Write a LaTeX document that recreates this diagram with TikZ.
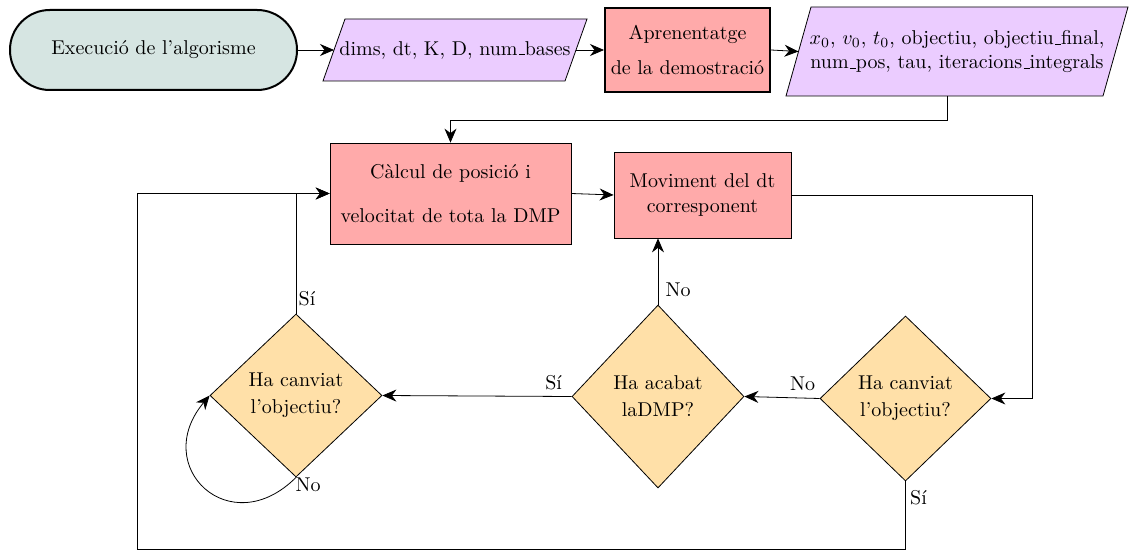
\documentclass[tikz,border=0pt]{standalone}
\usetikzlibrary{shapes.geometric,arrows.meta,calc,backgrounds}
\definecolor{startc}{RGB}{214,229,226}
\definecolor{ioc}{RGB}{235,204,255}
\definecolor{procc}{RGB}{255,170,170}
\definecolor{decc}{RGB}{255,224,168}
% short baseline underscore
\newcommand\lowbar{\leavevmode\kern.06em\vbox{\hrule width.3em}}
\begin{document}
\begin{tikzpicture}[x=0.5pt,y=0.5pt,line width=1pt,
  >={Stealth[length=7pt,width=6pt]},
  startbox/.style={draw,fill=startc,rounded corners=19.9pt,minimum width=143.5pt,minimum height=40pt},
  procbox/.style={draw,fill=procc,align=center,inner sep=0pt},
  decbox/.style={draw,fill=decc,diamond,aspect=1,inner sep=0pt,align=center},
  iotext/.style={align=center,inner sep=0pt},
  iobox/.style={draw,fill=ioc,line join=miter},
  lbl/.style={inner sep=0pt},
  conn/.style={->}]

\path[use as bounding box] (0,0) rectangle (1130,-551);

% terminal and input / process blocks of the top row
\node[startbox] (start) at (153.5,-50) {Execució de l'algorisme};
\node[iotext,minimum width=131pt,minimum height=30pt] (p1) at (455,-50) {dims, dt, K, D, num\lowbar bases};
\node[procbox,minimum width=82.5pt,minimum height=42pt] (apr) at (687.5,-50) {Aprenentatge\\[5.5pt] de la demostració};
\node[iotext,minimum width=170pt,minimum height=43.5pt] (p2) at (957,-51.5)
  {$x_0$, $v_0$, $t_0$, objectiu, objectiu\lowbar final,\\ num\lowbar pos, tau, iteracions\lowbar integrals};

% parallelogram outlines behind the input texts
\begin{pgfonlayer}{background}
  \draw[iobox] ($(p1.north west)+(22,0)$) -- (p1.north east) -- ($(p1.south east)+(-22,0)$) -- (p1.south west) -- cycle;
  \draw[iobox] ($(p2.north west)+(25,0)$) -- (p2.north east) -- ($(p2.south east)+(-25,0)$) -- (p2.south west) -- cycle;
\end{pgfonlayer}
\coordinate (p1in) at ($(p1.west)+(11,0)$);
\coordinate (p1out) at ($(p1.east)+(-11,0)$);
\coordinate (p2in) at ($(p2.west)+(12.5,0)$);
\coordinate (p2out) at ($(p2.south)+(-10,0)$);

% main loop blocks
\node[procbox,minimum width=120.5pt,minimum height=50.5pt] (calc) at (450.5,-193.5) {Càlcul de posició i\\[10pt] velocitat de tota la DMP};
\node[procbox,minimum width=88.5pt,minimum height=43pt] (mov) at (702.5,-195) {Moviment del dt\\[1pt] corresponent};

% decisions
\node[decbox,minimum width=86pt,minimum height=81.5pt] (d1) at (296,-395.5) {Ha canviat\\[1.5pt] l'objectiu?};
\node[decbox,minimum width=86pt,minimum height=91.5pt] (d2) at (658,-396.5) {Ha acabat\\[1.5pt] laDMP?};
\node[decbox,minimum width=85.5pt,minimum height=82.5pt] (d3) at (905.5,-398.5) {Ha canviat\\[1.5pt] l'objectiu?};

% connectors
\draw[conn] (start.east) -- (p1in);
\draw[conn] (p1out) -- (apr.west);
\draw[conn] (apr.east) -- (p2in);
\draw[conn] (p2out) -- ++(0,-24) -| (calc.north);
\draw[conn] (calc.east) -- (mov.west);
\draw[conn] (mov.east) -- ++(241,0) |- (d3.east);
\draw[conn] (d3.west) -- (d2.east);
\draw[conn] (d2.north) -- (d2.north |- mov.south);
\draw[conn] (d2.west) -- (d1.east);
\draw[conn] (d1.north) |- (calc.west);
\draw[conn] (d1.south) to[out=225,in=230,looseness=2] (d1.west);
\coordinate (lb) at (137,-549);
\draw[conn] (d3.south) |- (lb) |- (calc.west);

% branch labels
\node[lbl] at ($(d3.west)+(-17,15)$) {No};
\node[lbl] at ($(d2.north)+(20,15)$) {No};
\node[lbl] at ($(d2.west)+(-18,14)$) {Sí};
\node[lbl] at ($(d1.north)+(11,15)$) {Sí};
\node[lbl] at ($(d1.south)+(12,-7)$) {No};
\node[lbl] at ($(d3.south)+(13,-16)$) {Sí};
\end{tikzpicture}
\end{document}
